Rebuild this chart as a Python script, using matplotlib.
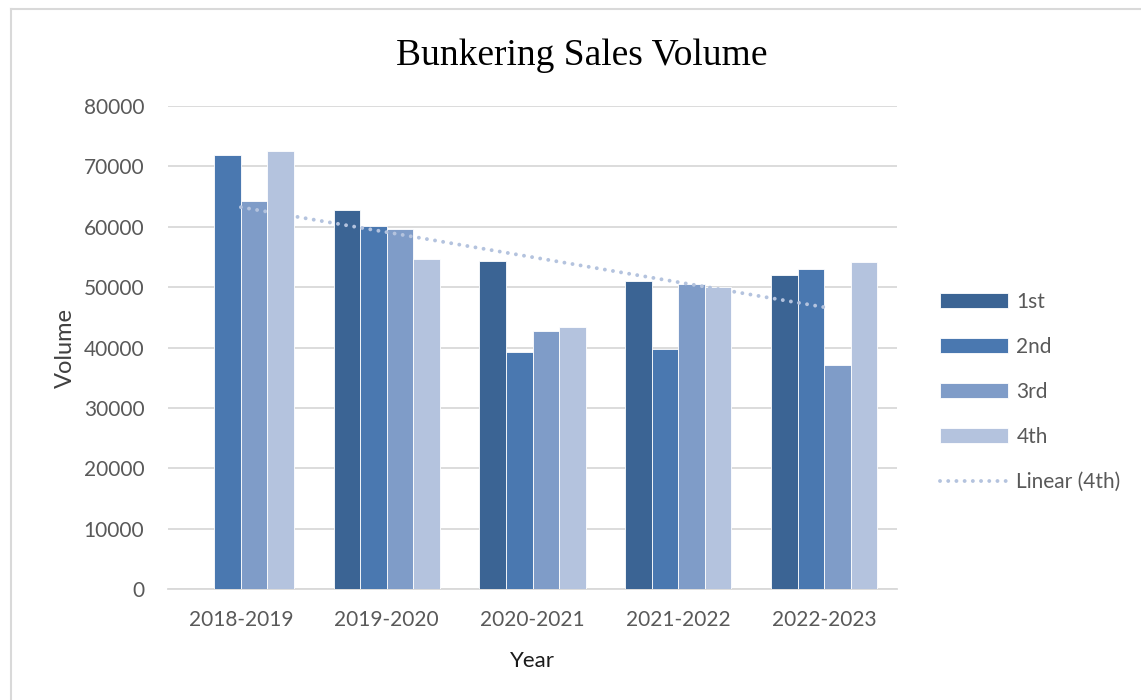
import matplotlib
matplotlib.use("Agg")
import matplotlib.pyplot as plt
import numpy as np
from matplotlib.lines import Line2D

# Bunkering sales volume by fiscal year and quarter
years = ["2018-2019", "2019-2020", "2020-2021", "2021-2022", "2022-2023"]
q1 = [0, 62700, 54300, 51000, 52000]
q2 = [71900, 60100, 39200, 39700, 53000]
q3 = [64300, 59700, 42800, 50600, 37100]
q4 = [72600, 54600, 43400, 50000, 54200]
quarter_labels = ["1st", "2nd", "3rd", "4th"]
quarter_colors = ["#3B6494", "#4A78B0", "#7F9CC8", "#B4C3DE"]
y_ticks = [0, 10000, 20000, 30000, 40000, 50000, 60000, 70000, 80000]

W, H = 1141, 700
fig = plt.figure(figsize=(W / 100, H / 100), dpi=100)
ax = fig.add_axes([168 / W, 1 - 589 / H, (897 - 168) / W, (589 - 106) / H])

x = np.arange(len(years))
bar_w = 0.1818
series = [q1, q2, q3, q4]
handles = []
for i, (vals, lab, col) in enumerate(zip(series, quarter_labels, quarter_colors)):
    b = ax.bar(x + (i - 1.5) * bar_w, vals, width=bar_w, color=col, label=lab,
               edgecolor="white", linewidth=0.6, zorder=3)
    handles.append(b)

# Linear trendline fitted to the 4th-quarter series
coef = np.polyfit(x, q4, 1)
trend = np.polyval(coef, x)
(tl,) = ax.plot(x, trend, color="#B4C3DE", linewidth=2.8, linestyle=(0, (0.01, 2.1)),
                dash_capstyle="round", label="Linear (4th)", zorder=4)
handles.append(tl)

ax.set_xlim(-0.5, len(years) - 0.5)
ax.set_ylim(0, 80000)
ax.set_yticks(y_ticks)
ax.set_yticklabels([str(v) for v in y_ticks])
ax.set_xticks(x)
ax.set_xticklabels(years)

ax.grid(axis="y", color="#D9D9D9", linewidth=1.3, zorder=0)
ax.set_axisbelow(True)
for s in ["top", "right", "left"]:
    ax.spines[s].set_visible(False)
ax.spines["bottom"].set_color("#D9D9D9")
ax.spines["bottom"].set_linewidth(1.3)
ax.tick_params(axis="both", length=0, labelsize=15, labelcolor="#595959")
ax.tick_params(axis="y", pad=17)
ax.tick_params(axis="x", pad=15)
for t in ax.get_xticklabels() + ax.get_yticklabels():
    t.set_fontfamily("Lato")

ax.set_ylabel("Volume", fontsize=17, color="#404040", family="Lato", labelpad=6)
ax.set_xlabel("Year", fontsize=16, color="#1A1A1A", family="Lato", labelpad=15)

fig.text(582 / W, 1 - 65 / H, "Bunkering Sales Volume", ha="center", va="baseline",
         fontsize=27, family="Liberation Serif", color="black")

leg = ax.legend(handles=handles, labels=quarter_labels + ["Linear (4th)"],
                loc="center left", bbox_to_anchor=(940 / W, 1 - 392 / H),
                bbox_transform=fig.transFigure, frameon=False, borderpad=0,
                borderaxespad=0, handlelength=3.27, handleheight=0.7,
                handletextpad=0.4, labelspacing=1.2,
                prop={"family": "Lato", "size": 15})
for t in leg.get_texts():
    t.set_color("#595959")

# Outer frame edges (top and left)
fig.add_artist(Line2D([11 / W, 11 / W], [0, 1 - 9 / H], transform=fig.transFigure,
                      color="#D9D9D9", linewidth=1.5))
fig.add_artist(Line2D([11 / W, 1], [1 - 9 / H, 1 - 9 / H], transform=fig.transFigure,
                      color="#D9D9D9", linewidth=1.5))

fig.savefig("out.png", dpi=100, facecolor="white")
